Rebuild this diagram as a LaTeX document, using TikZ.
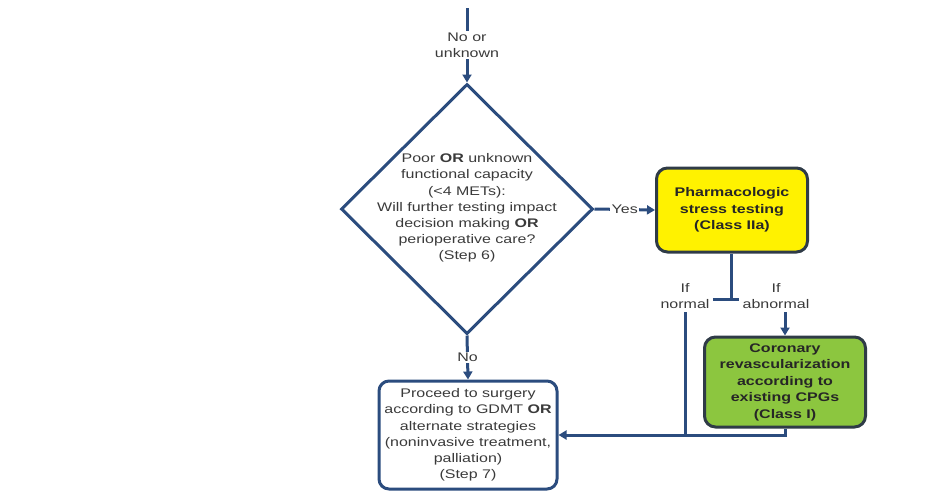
\documentclass[tikz,border=0pt]{standalone}
\usepackage{fontspec}
\setmainfont[FakeStretch=1.28]{Liberation Sans}
\usetikzlibrary{arrows.meta, shapes.geometric}

\definecolor{flowblue}{HTML}{2B4C7E}
\definecolor{txtgray}{HTML}{3A3A3A}
\definecolor{stressyellow}{HTML}{FFF200}
\definecolor{revascgreen}{HTML}{8CC63F}
\definecolor{boxedge}{HTML}{2F3B47}

\begin{document}
\begin{tikzpicture}[x=1pt, y=-1pt,
    every node/.style={font=\fontsize{12.5}{16.2}\selectfont, text=txtgray, align=center},
    flow/.style={flowblue, line width=3pt},
    arr/.style={flow, -{Triangle[width=9pt, length=8pt]}},
    decision/.style={diamond, draw=flowblue, line width=3pt, minimum width=252pt, minimum height=250pt, inner sep=0pt},
    stepbox/.style={rectangle, rounded corners=10pt, draw=flowblue, line width=3pt, fill=white},
    recbox/.style={rectangle, rounded corners=11pt, draw=boxedge, line width=3pt, font=\bfseries\fontsize{12.5}{16.5}\selectfont, text=black!85},
    lbl/.style={fill=white, inner sep=1.5pt}]
    \useasboundingbox (0,0) rectangle (932,491);

    % Step 6 decision
    \coordinate (entry) at (467,8);
    \node[decision] (q6) at (467,209) {};
    \node (q6txt) at (467,208) {Poor \textbf{OR} unknown\\functional capacity\\(<4 METs):\\Will further testing impact\\decision making \textbf{OR}\\perioperative care?\\(Step 6)};

    % outcome boxes
    \node[recbox, fill=stressyellow, minimum width=151pt, minimum height=84pt] (pharm) at (732,210) {Pharmacologic\\stress testing\\(Class IIa)};
    \node[recbox, fill=revascgreen, minimum width=161pt, minimum height=90pt] (revasc) at (785,382) {Coronary\\revascularization\\according to\\existing CPGs\\(Class I)};
    \node[stepbox, minimum width=178pt, minimum height=108pt] (surgery) at (468,435) {Proceed to surgery\\according to GDMT \textbf{OR}\\alternate strategies\\(noninvasive treatment,\\palliation)\\(Step 7)};

    % test result branches
    \node (ifnorm) at (685,296) {If\\normal};
    \node (ifabn) at (776,296) {If\\abnormal};
    \coordinate (tee) at (731,299);

    \draw[arr] (entry) -- node[lbl] (nounk) {No or\\unknown} (q6.north);
    \draw[arr] (q6.east) -- node[lbl] (yes) {Yes} (pharm.west);
    \draw[arr] (q6.south) -- node[lbl] (no) {No} (surgery.north);
    \draw[flow] (pharm.south -| tee) -- (tee);
    \draw[flow] (ifnorm.east |- tee) -- (ifabn.west |- tee);
    \draw[arr] (ifabn.south -| revasc.north) -- (revasc.north);
    \draw[arr] (revasc.south) |- (surgery.east);
    \draw[flow] (ifnorm.south) -- (ifnorm.south |- surgery.east);
\end{tikzpicture}
\end{document}
